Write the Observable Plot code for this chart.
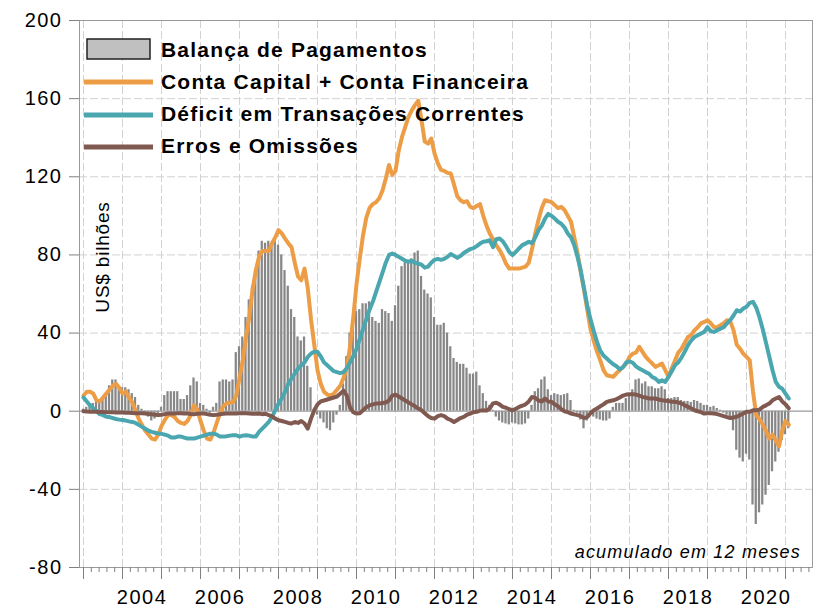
<!DOCTYPE html>
<html><head><meta charset="utf-8">
<script src="https://cdn.jsdelivr.net/npm/d3@7"></script>
<script src="https://cdn.jsdelivr.net/npm/@observablehq/plot@0.6"></script>
<style>
body{margin:0;background:#fff;}
#wrap{position:relative;width:817px;height:609px;font-family:"Liberation Sans",Arial,sans-serif;}
#overlay{position:absolute;left:0;top:0;pointer-events:none;}
</style></head><body><div id="wrap"></div>
<script>
// monthly, 12-month accumulated, from Jan 2003
const startYear = 2003;
const balancaPagamentos = [
  1, 2, 3, 4, 5, 6, 7, 9, 13, 16, 16, 12,
  12, 12, 11, 9, 7, 3, 1, -1, -3, -5, -4, -2,
  2, 8, 10, 10, 10, 10, 6, 6, 8, 13, 17, 15,
  4, 3, 1, -1, 2, 4, 15, 16, 16, 15, 16, 30,
  33, 38, 48, 57, 64, 72, 82, 87, 86, 87, 86, 87,
  85, 80, 72, 64, 52, 48, 38, 36, 38, 23, 12, 1,
  -2, -4, -6, -9, -10, -6, -2, 3, 14, 28, 40, 46,
  51, 52, 55, 55, 56, 48, 46, 45, 52, 51, 50, 46,
  54, 64, 74, 76, 77, 78, 81, 82, 69, 62, 60, 58,
  48, 44, 44, 45, 40, 33, 27, 25, 24, 24, 22, 19,
  19, 20, 13, 9, 5, 3, 0.5, -3, -5, -6, -6.5, -7,
  -6, -6.5, -7, -7, -6.5, -4, 3, 10, 11.5, 16, 17.5, 11,
  8, 9, 8.5, 8, 8.5, 9, 5.5, 0.5, -1, -4.5, -9, -5,
  -2, -3, -4, -4.5, -5, -5, -4, 2, 4, 4, 4, 6.5,
  9, 11, 16, 16.5, 14, 15, 12.5, 12.5, 11.5, 11.5, 12.5, 11,
  6.5, 6.5, 7, 7, 5.5, 5, 5, 4.5, 5.5, 5, 4, 3,
  3, 2, 2.5, 1.4, 0.5, -1, -2, -3, -10, -20, -24, -26,
  -22, -25, -48, -58, -52, -48, -43, -38, -31, -26, -21, -15,
  -12, -9
];
const contaCapitalFinanceira = [
  8, 10, 10, 9, 5.5, 5, 7, 9, 11, 13, 14, 12,
  9, 10, 7, 4.5, 0.5, -4, -7, -10, -12, -14, -14.5, -12,
  -7.5, -4.5, -2, -2, -3, -5, -6, -6.5, -5, -2, 3, 1,
  -5, -10, -14, -14.5, -11, -6, -1, 2.5, 4, 4.5, 4.5, 8,
  17, 26, 38, 48, 62, 72, 79, 82, 82, 82, 86, 89,
  92.7, 91, 88.4, 86, 84, 76, 69, 67, 73, 63, 47, 34,
  21, 14, 10, 8.5, 8, 9, 11, 13, 17, 22, 33, 48,
  65, 78, 90, 99, 104, 106, 107, 109, 113, 119, 126, 121,
  123, 133.6, 140.4, 145.6, 150.7, 154, 156.7, 159, 149, 138, 137, 139.6,
  132, 127, 123.5, 123, 122, 121.7, 116, 110, 108, 107, 107.5, 104.6,
  104, 105, 106, 100, 95, 91, 88, 85, 82.5, 79.5, 75.5, 73,
  73, 73, 73, 73.5, 74, 76, 83, 91, 98, 104, 108, 107.5,
  107, 105.5, 104, 104.6, 103, 100, 97, 89, 81, 71, 62, 52,
  42, 36, 30.5, 26, 21, 18.4, 18, 17.6, 19.5, 21, 22.7, 24.4,
  27.8, 29.5, 30, 33, 30.4, 27.8, 26, 24.4, 22.7, 23.5, 24.4, 21,
  17.6, 22, 26, 30, 32, 35, 38, 39, 41.5, 43, 45, 45.7,
  46.6, 45, 43, 43, 44, 45, 46.6, 46, 41.5, 34, 32, 29.5,
  27.8, 26, 10, -2, -4, -7, -10, -14, -12, -15, -18, -10,
  -5, -7
];
const deficitTransacoes = [
  7, 5, 3, 1.5, 0, -1.5, -2, -2.8, -3, -3.5, -4, -4.3,
  -4.5, -4.8, -5.2, -5.5, -6, -7, -8, -9, -10, -10.6, -11, -11.4,
  -11.6, -12, -12.5, -13.5, -13.5, -13, -13, -13.5, -14, -14, -14, -13.5,
  -13, -12.5, -12, -11.5, -11.5, -12, -13, -13, -12.8, -12.5, -12.3, -12.3,
  -13, -12.5, -12.3, -12.5, -13, -13, -10.6, -8.9, -7.2, -5.5, -2.9, 0.5,
  3.9, 6.5, 9.9, 14, 16.7, 19.3, 21.8, 23.5, 25, 27.8, 29.5, 30.4,
  30.4, 28, 25, 23.5, 22, 20.5, 20, 19.5, 20, 22, 25, 28,
  32, 37, 42, 47, 52, 56, 61, 66, 71, 76, 80, 80.7,
  80, 79, 78, 77, 76.5, 77, 76, 75.6, 75, 73.5, 74, 76,
  77.5, 78, 77.5, 78, 79, 80.5, 79.5, 78.5, 79.5, 81, 82, 83,
  83.5, 84.5, 85.8, 86.7, 87, 87.5, 84, 88, 88.4, 87, 84.5, 81.5,
  80, 81.5, 83.3, 85, 85.8, 86.7, 86, 89, 92.7, 95, 98.6, 101,
  100, 98.6, 97, 96, 94, 91, 89, 85, 79, 72, 63, 54,
  47, 41, 35.5, 31, 28.5, 27, 25.4, 24, 23, 21.5, 22.5, 25,
  25.5, 24.8, 23, 21.8, 21, 20, 19.2, 17.5, 16.7, 15, 15.9, 15,
  17.6, 20.5, 23.5, 25, 27.5, 30.5, 33.8, 36.3, 38, 38.9, 39.8, 40.6,
  43, 41, 40.6, 41.5, 42.3, 43, 45, 46.6, 49, 51.7, 51, 52.6,
  53.5, 55.5, 56, 53, 48, 42, 35, 28, 21, 15, 12.5, 11.5,
  9, 6.5
];
const errosOmissoes = [
  0, -0.2, -0.3, -0.3, -0.3, -0.4, -0.4, -0.5, -0.5, -0.5, -0.6, -0.6,
  -0.7, -0.8, -0.8, -0.9, -1, -1, -1.1, -1.2, -1.4, -1.6, -1.8, -2,
  -1.8, -1.5, -1.2, -1.2, -1.2, -1.1, -1, -1.2, -1.2, -1.4, -1.5, -1.3,
  -1.2, -1.2, -1.5, -1.8, -2, -1.8, -1.5, -1.3, -1.2, -1.2, -1.2, -1.2,
  -1, -1, -1.1, -1.2, -1.3, -1.3, -1.2, -1.5, -1.3, -2, -2.6, -3.8,
  -4.6, -5, -5.5, -6, -6.3, -5.5, -6, -5, -6.3, -8.9, -3.8, 0.5,
  3.5, 5, 5.5, 6, 6.5, 7, 7.5, 9, 10.5, 8, 2, -0.5,
  -1.2, -1, 0.5, 2, 3, 3.5, 3.9, 4, 4.2, 4.5, 5.5, 8,
  8.5, 7.5, 6.5, 5.5, 4.5, 3.5, 2.5, 1.4, 0.5, -1, -2.5, -3.5,
  -3.8, -2.5, -2, -2.5, -3.8, -4.5, -5.5, -4.5, -3.5, -2.9, -1.8, -1.2,
  -0.5, -0.3, 0.3, 0.5, 0.3, 1.4, 4, 4.3, 3.5, 2.2, 1.8, 1,
  0.5, 1.2, 2.2, 2.8, 3.5, 5, 7.3, 6.8, 5.5, 5, 6.5, 5,
  4.8, 3.5, 2.5, 1, 0, -0.5, -1.2, -1.6, -2, -2.5, -3.5, -3,
  -1, 0.5, 1.4, 2.5, 3.5, 4.8, 5.2, 5.6, 6.2, 7, 8, 8.5,
  8.7, 8.7, 8.5, 8, 7.3, 7, 6.5, 6.5, 6.5, 6, 5.6, 5.4,
  5.2, 4.8, 4.8, 4.5, 3.9, 3, 2.2, 1.4, 0.5, 0, -0.5, -1.2,
  -1, -1, -1.2, -1.5, -2, -2.5, -3, -3.5, -3.2, -2.8, -2, -1.2,
  -0.3, -0.3, 0.5, 0.5, 0.8, 2.2, 3, 3.9, 5.6, 6.5, 7.3, 5,
  3.5, 1.5
];
const yTickValues = [-80, -40, 0, 40, 80, 120, 160, 200];
const yearLabels = [2004, 2006, 2008, 2010, 2012, 2014, 2016, 2018, 2020];
const gridYears = [2003, 2004, 2005, 2006, 2007, 2008, 2009, 2010, 2011, 2012, 2013, 2014, 2015, 2016, 2017, 2018, 2019, 2020, 2021];
const legendLabels = ["Balança de Pagamentos", "Conta Capital + Conta Financeira", "Déficit em Transações Correntes", "Erros e Omissões"];
const unitLabel = "US$ bilhões";
const noteLabel = "acumulado em 12 meses";

const colors = {bar: "#878787", orange: "#EC9D45", teal: "#4AA7AF", brown: "#805A50", grid: "#d2d2d2", axis: "#9a9a9a"};

const toRows = arr => arr.map((v, i) => ({t: startYear + i / 12, v}));
const barRows = toRows(balancaPagamentos);
const orangeRows = toRows(contaCapitalFinanceira);
const tealRows = toRows(deficitTransacoes);
const brownRows = toRows(errosOmissoes);

const xDomain = [2002.897, 2021.692];
const minorTicks = [];
gridYears.forEach(y => { for (let k = 1; k < 5; k++) { const v = y + k / 5; if (v < xDomain[1]) minorTicks.push(v); } });

const chart = Plot.plot({
  width: 817, height: 609,
  marginLeft: 79, marginRight: 5, marginTop: 20, marginBottom: 42,
  x: {domain: xDomain, label: null},
  y: {domain: [-80, 200], label: null},
  style: {fontFamily: "'Liberation Sans', Arial, sans-serif", fontSize: "20px", letterSpacing: "1.5px", color: "#000", background: "#fff"},
  marks: [
    Plot.gridX(gridYears, {stroke: colors.grid, strokeOpacity: 1, strokeDasharray: "8,3"}),
    Plot.gridY(yTickValues.filter(d => d !== 0), {stroke: colors.grid, strokeOpacity: 1, strokeDasharray: "8,3"}),
    Plot.rect(barRows, {x1: d => d.t - 1/24, x2: d => d.t + 1/24, y1: 0, y2: "v", fill: colors.bar, insetLeft: 0.5, insetRight: 0.5}),
    Plot.ruleY([0], {stroke: colors.axis, strokeWidth: 1.2}),
    Plot.line(orangeRows, {x: "t", y: "v", stroke: colors.orange, strokeWidth: 4, strokeLinejoin: "round"}),
    Plot.line(tealRows, {x: "t", y: "v", stroke: colors.teal, strokeWidth: 4, strokeLinejoin: "round"}),
    Plot.line(brownRows, {x: "t", y: "v", stroke: colors.brown, strokeWidth: 4, strokeLinejoin: "round"}),
    Plot.frame({stroke: colors.axis}),
    Plot.axisY(yTickValues, {tickSize: 10, tickPadding: 7, stroke: "#808080", fill: "#000", tickFormat: d => String(d), label: null}),
    Plot.axisX(gridYears, {tickSize: 12, stroke: "#808080", tickFormat: () => "", label: null}),
    Plot.axisX(minorTicks, {tickSize: 5, stroke: "#808080", tickFormat: () => "", label: null}),
    Plot.axisX(yearLabels.map(y => y + 0.5), {tickSize: 0, tickPadding: 22, fill: "#000", tickFormat: d => String(Math.floor(d)), label: null})
  ]
});
const wrap = document.getElementById("wrap");
wrap.appendChild(chart);

// legend and annotations overlay
const ns = "http://www.w3.org/2000/svg";
const ov = document.createElementNS(ns, "svg");
ov.setAttribute("id", "overlay");
ov.setAttribute("width", 817); ov.setAttribute("height", 609);
const rowsY = [49, 82, 115, 147];
const baselines = [57, 89, 121, 153];
let html = `<rect x="87" y="39" width="63" height="20" fill="#c0c0c0" stroke="#222" stroke-width="1.5"/>`;
[colors.orange, colors.teal, colors.brown].forEach((c, i) => {
  html += `<line x1="84" x2="153" y1="${rowsY[i+1]}" y2="${rowsY[i+1]}" stroke="${c}" stroke-width="5"/>`;
});
legendLabels.forEach((l, i) => {
  html += `<text x="161" y="${baselines[i]}" font-family="Liberation Sans, Arial, sans-serif" font-weight="bold" font-size="21" letter-spacing="1.2" fill="#000">${l}</text>`;
});
html += `<text x="109" y="257" transform="rotate(-90 109 257)" text-anchor="middle" font-family="Liberation Sans, Arial, sans-serif" font-size="19" letter-spacing="0.8" fill="#000">${unitLabel}</text>`;
html += `<text x="801" y="558" text-anchor="end" font-family="Liberation Sans, Arial, sans-serif" font-style="italic" font-size="18" letter-spacing="1.2" fill="#000">${noteLabel}</text>`;
ov.innerHTML = html;
wrap.appendChild(ov);
</script></body></html>
